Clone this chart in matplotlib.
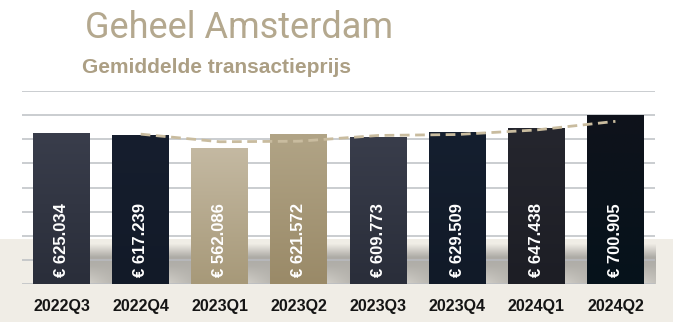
import numpy as np
import matplotlib
matplotlib.use("Agg")
import matplotlib.pyplot as plt
from matplotlib.colors import to_rgb
from matplotlib.patches import Rectangle

quarters = ["2022Q3", "2022Q4", "2023Q1", "2023Q2", "2023Q3", "2023Q4", "2024Q1", "2024Q2"]
prices = [625034, 617239, 562086, 621572, 609773, 629509, 647438, 700905]
bar_top = ["#393d4b", "#161e2e", "#c4b9a2", "#b1a486", "#393d4b", "#151f2f", "#25262e", "#0f131b"]
bar_bottom = ["#2a2e3a", "#121a28", "#a79979", "#9a8a68", "#2a2e3a", "#111a28", "#1d1e25", "#06121b"]

title = "Geheel Amsterdam"
subtitle = "Gemiddelde transactieprijs"

gold = "#b4a88e"
band = "#f0ede6"


def fmt(v):
    return "€ " + f"{v:,}".replace(",", ".")


def gradient(top, bottom, n=64):
    t = np.linspace(0, 1, n)[:, None]
    c0 = np.array(to_rgb(bottom))
    c1 = np.array(to_rgb(top))
    return (c0 + (c1 - c0) * t)[:, None, :]


def shadow(n=64, m=24):
    # soft grey wash cast to the right of each bar
    t = np.linspace(0, 1, n)[:, None]
    s = np.linspace(0, 1, m)[None, :]
    a = np.clip((0.9 - t) / 0.3, 0, 1) * (0.8 + 0.2 * np.clip(t / 0.6, 0, 1))
    a = a * (1 - 0.4 * np.clip(1 - t * 2.5, 0, 1) * (1 - s))
    img = np.zeros((n, m, 4))
    img[..., :3] = (0.58, 0.57, 0.55)
    img[..., 3] = np.clip(a, 0, 1) * 0.72
    return img


fig = plt.figure(figsize=(6.73, 3.22), dpi=100)
fig.patch.set_facecolor("white")
band_h = 83 / 322
fig.patches.append(Rectangle((0, 0), 1, band_h, transform=fig.transFigure,
                             facecolor=band, edgecolor="none", zorder=-1))

ax = fig.add_axes([22 / 673, 38 / 322, 633 / 673, 193 / 322])
ax.set_facecolor("none")
x = np.arange(len(quarters))
ax.set_xlim(-0.5, len(quarters) - 0.5)
ax.set_ylim(0, 800000)

bars = ax.bar(x, prices, width=0.72, color="none", zorder=3)
band_top = ax.transData.inverted().transform(fig.transFigure.transform((0, band_h)))[1]
gap = 1 - 0.72

for b, c0, c1 in zip(bars, bar_top, bar_bottom):
    x0, w, h = b.get_x(), b.get_width(), b.get_height()
    im = ax.imshow(gradient(c0, c1), extent=(x0, x0 + w, 0, h), origin="lower",
                   aspect="auto", interpolation="bilinear", zorder=3)
    im.set_clip_path(b)
    ax.imshow(shadow(), extent=(x0 + w, x0 + w + gap, 0, band_top), origin="lower",
              aspect="auto", interpolation="bilinear", zorder=1)

ax.set_xlim(-0.5, len(quarters) - 0.5)
ax.set_ylim(0, 800000)

ax.set_yticks(np.arange(0, 800001, 100000))
ax.grid(axis="y", color="#b9bcc1", linewidth=1.4, alpha=0.75, zorder=2)
ax.set_axisbelow(False)
for s in ax.spines.values():
    s.set_visible(False)
ax.tick_params(axis="y", length=0, labelleft=False)
ax.tick_params(axis="x", length=0, pad=11)
ax.set_xticks(x)
ax.set_xticklabels(quarters, fontsize=11.5, fontfamily="Liberation Sans",
                   fontweight="bold", color="#151515")

# two-quarter moving average
avg = [(a + b) / 2 for a, b in zip(prices[:-1], prices[1:])]
ax.plot(x[1:], avg, color="#c9bc9f", linewidth=2, dashes=(3.5, 2), zorder=4)

for xi, v in zip(x, prices):
    ax.annotate(fmt(v), (xi, 0), xytext=(0, 5), textcoords="offset points",
                rotation=90, ha="center", va="bottom", color="white",
                fontsize=12, fontfamily="Liberation Sans", fontweight="bold", zorder=5)

fig.text(85 / 673, 1 - 37.5 / 322, title, fontsize=26, fontfamily="Roboto",
         fontweight="normal", color=gold, va="baseline")
fig.text(82 / 673, 1 - 73 / 322, subtitle, fontsize=15, fontfamily="Liberation Sans",
         fontweight="bold", color="#ac9f84", va="baseline")

fig.savefig("out.png", dpi=100, facecolor=fig.get_facecolor())
